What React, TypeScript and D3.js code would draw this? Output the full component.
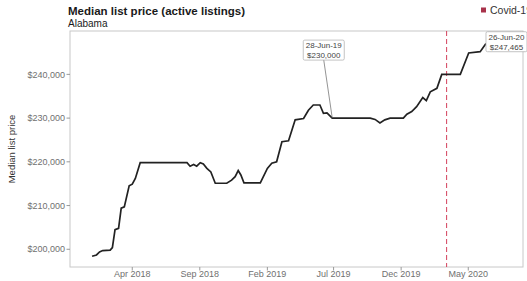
import React from 'react';
import * as d3 from 'd3';

// weekly-ish readings of the median list price
const dates = [
  '2017-12-31', '2018-01-10', '2018-01-17', '2018-01-24', '2018-02-10', '2018-02-15',
  '2018-02-21', '2018-03-01', '2018-03-07', '2018-03-14', '2018-03-25', '2018-04-01',
  '2018-04-08', '2018-04-19', '2018-08-03', '2018-08-10', '2018-08-18', '2018-08-25',
  '2018-09-02', '2018-09-09', '2018-09-17', '2018-09-26', '2018-10-06', '2018-11-01',
  '2018-11-12', '2018-11-20', '2018-11-27', '2018-12-03', '2018-12-10', '2019-01-16',
  '2019-02-01', '2019-02-11', '2019-02-22', '2019-03-06', '2019-03-21', '2019-04-05',
  '2019-04-24', '2019-05-01', '2019-05-05', '2019-05-16', '2019-05-31', '2019-06-08',
  '2019-06-16', '2019-06-25', '2019-06-28', '2019-09-22', '2019-10-03', '2019-10-14',
  '2019-10-25', '2019-11-06', '2019-12-06', '2019-12-14', '2019-12-25', '2020-01-05',
  '2020-01-19', '2020-01-27', '2020-02-05', '2020-02-20', '2020-03-02', '2020-04-13',
  '2020-05-02', '2020-05-28', '2020-06-09', '2020-06-26',
];
const prices = [
  198400, 198700, 199400, 199700, 199800, 200400,
  204500, 204800, 209400, 209700, 214500, 214900,
  216200, 219800, 219800, 219000, 219400, 219000,
  219800, 219500, 218500, 217700, 215100, 215100,
  215800, 216600, 218000, 217000, 215200, 215200,
  218500, 219700, 220000, 224600, 224800, 229600,
  229900, 231100, 231800, 233000, 233000, 231100,
  231200, 230300, 230000, 230000, 229700, 228900,
  229600, 230000, 230000, 230900, 231500, 232600,
  234700, 234000, 236000, 236800, 240000, 240000,
  244900, 245200, 246900, 247465,
];

const yTicks = [200000, 210000, 220000, 230000, 240000];
const xTickDates = ['2018-04-01', '2018-09-01', '2019-02-01', '2019-07-01', '2019-12-01', '2020-05-01'];
const xDomain = ['2017-11-11', '2020-09-02'];
const covidDate = '2020-03-13';
const labelDates = ['2019-06-28', '2020-06-26'];
const labelValues = [230000, 247465];

const W = 527;
const H = 281;
const left = 70;
const right = 523;
const top = 31;
const bottom = 267;
const font = '"Liberation Sans", Arial, sans-serif';

const parse = d3.timeParse('%Y-%m-%d');

export default function App() {
  const data = dates.map((d, i) => ({ date: parse(d)!, value: prices[i] }));

  const x = d3
    .scaleTime()
    .domain(xDomain.map(d => parse(d)!) as [Date, Date])
    .range([left, right]);

  const [lo, hi] = d3.extent(prices) as [number, number];
  const pad = (hi - lo) * 0.05;
  const y = d3.scaleLinear().domain([lo - pad, hi + pad]).range([bottom, top]);

  const line = d3
    .line<{ date: Date; value: number }>()
    .x(d => x(d.date))
    .y(d => y(d.value));

  const fmtDate = d3.timeFormat('%d-%b-%y');
  const fmtTick = d3.timeFormat('%b %Y');
  const fmtMoney = (v: number) => '$' + d3.format(',')(v);

  const covidX = x(parse(covidDate)!);
  const nudges = [
    [-8.5, -68],
    [13.5, 0],
  ];

  return (
    <svg
      width={W}
      height={H}
      style={{ position: 'absolute', left: 0, top: 0, background: '#fff' }}
      fontFamily={font}
    >
      <rect x={0} y={0} width={W} height={H} fill="#fff" />

      <text x={68} y={14.5} fontSize={11.5} fontWeight="bold" fill="#1a1a1a">
        Median list price (active listings)
      </text>
      <text x={68} y={27} fontSize={10} fill="#1a1a1a">
        Alabama
      </text>

      {/* legend */}
      <rect x={481} y={7.5} width={5} height={5} fill="#a8324a" />
      <text x={490} y={13.5} fontSize={10.5} fill="#333">
        Covid-19
      </text>

      {/* panel */}
      <rect x={left} y={top} width={right - left} height={bottom - top} fill="#fff" stroke="#c8c8c8" strokeWidth={1} />

      {yTicks.map(t => (
        <g key={t}>
          <line x1={left - 3.5} x2={left} y1={y(t)} y2={y(t)} stroke="#999" />
          <text x={left - 5} y={y(t)} dy="0.35em" textAnchor="end" fontSize={9} fill="#707070">
            {fmtMoney(t)}
          </text>
        </g>
      ))}

      {xTickDates.map(d => {
        const t = parse(d)!;
        return (
          <g key={d}>
            <line x1={x(t)} x2={x(t)} y1={bottom} y2={bottom + 3.5} stroke="#999" />
            <text x={x(t)} y={bottom + 9.5} textAnchor="middle" fontSize={9} fill="#707070">
              {fmtTick(t)}
            </text>
          </g>
        );
      })}

      <text
        transform={`translate(15,${(top + bottom) / 2}) rotate(-90)`}
        textAnchor="middle"
        fontSize={9.5}
        fill="#333"
      >
        Median list price
      </text>

      <line
        x1={covidX}
        x2={covidX}
        y1={top}
        y2={bottom}
        stroke="#d4405c"
        strokeWidth={1}
        strokeDasharray="5,3"
      />

      <path d={line(data) || ''} fill="none" stroke="#222" strokeWidth={1.7} />

      {labelDates.map((d, i) => {
        const px = x(parse(d)!);
        const py = y(labelValues[i]);
        const cx = px + nudges[i][0];
        const cy = py + nudges[i][1];
        const bw = 41;
        const bh = 20;
        return (
          <g key={d}>
            {i === 0 && (
              <line x1={cx} y1={cy + bh / 2} x2={px} y2={py} stroke="#666" strokeWidth={0.7} />
            )}
            <rect
              x={cx - bw / 2}
              y={cy - bh / 2}
              width={bw}
              height={bh}
              rx={1.5}
              fill="#fff"
              stroke="#aaa"
              strokeWidth={0.7}
            />
            <text x={cx} y={cy - 4.5} dy="0.35em" textAnchor="middle" fontSize={8} fill="#444">
              {fmtDate(parse(d)!)}
            </text>
            <text x={cx} y={cy + 5} dy="0.35em" textAnchor="middle" fontSize={8} fill="#444">
              {fmtMoney(labelValues[i])}
            </text>
          </g>
        );
      })}
    </svg>
  );
}
